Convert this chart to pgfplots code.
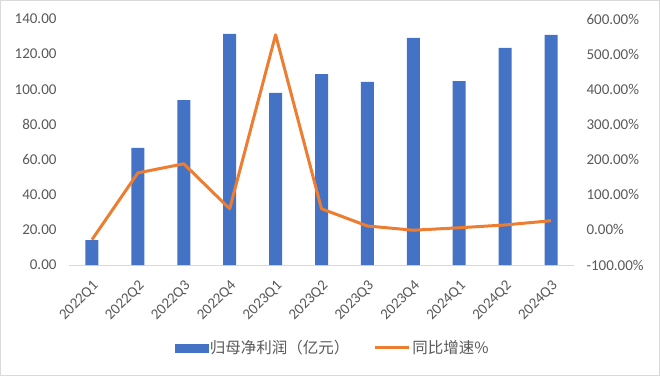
\documentclass[border=0pt]{standalone}
\usepackage{pgfplots}
\pgfplotsset{compat=1.18}
\usepackage{fontspec}
\setmainfont{Carlito}
\newfontfamily\cjk{Noto Sans CJK SC}
\definecolor{barblue}{HTML}{4472C4}
\definecolor{lineorange}{HTML}{ED7D31}
\definecolor{txtgray}{HTML}{595959}
\definecolor{axgray}{HTML}{D9D9D9}
\begin{document}
\begin{tikzpicture}
\useasboundingbox (0pt,0pt) rectangle (660pt,376pt);
\begin{axis}[
  at={(69pt,111pt)}, anchor=south west,
  scale only axis, width=505pt, height=246pt,
  xmin=-0.5, xmax=10.5, ymin=0, ymax=140,
  ytick={0,20,...,140},
  xtick={0,...,10},
  xticklabels={2022Q1,2022Q2,2022Q3,2022Q4,2023Q1,2023Q2,2023Q3,2023Q4,2024Q1,2024Q2,2024Q3},
  axis x line*=bottom, axis y line*=left,
  y axis line style={draw=none},
  x axis line style={axgray, line width=1pt, -},
  major tick length=0pt,
  tick style={draw=none},
  /pgf/number format/assume math mode=true,
  yticklabel={\pgfmathprintnumber[fixed,fixed zerofill,precision=2]{\tick}},
  ticklabel style={font=\fontsize{15}{17}\selectfont, text=txtgray},
  yticklabel style={xshift=-9pt},
  xticklabel style={xshift=5pt, yshift=-18pt, rotate=45, anchor=east, inner sep=1pt},
]
\addplot[ybar, bar width=13pt, fill=barblue, draw=none] coordinates {
(0,14.2) (1,66.6) (2,93.9) (3,131.5) (4,97.9) (5,108.7) (6,104.2) (7,129.2) (8,104.7) (9,123.5) (10,130.9)};
\end{axis}
\begin{axis}[
  at={(69pt,111pt)}, anchor=south west,
  scale only axis, width=505pt, height=246pt,
  xmin=-0.5, xmax=10.5, ymin=-100, ymax=600,
  ytick={-100,0,...,600},
  axis x line=none, axis y line*=right,
  y axis line style={draw=none},
  major tick length=0pt,
  tick style={draw=none},
  /pgf/number format/assume math mode=true,
  yticklabel={\pgfmathprintnumber[fixed,fixed zerofill,precision=2]{\tick}\%},
  ticklabel style={font=\fontsize{15}{17}\selectfont, text=txtgray},
  yticklabel style={xshift=9pt},
  legend style={at={(0.522,-0.337)}, anchor=center, draw=none, fill=none,
    legend columns=2, font=\cjk\fontsize{15.5}{17}\selectfont, text=txtgray,
    /tikz/every even column/.append style={column sep=22pt}},
]
\addlegendimage{legend image code/.code={\fill[barblue] (0pt,-4pt) rectangle (33pt,4pt);}}
\addlegendentry{归母净利润（亿元）}
\addplot[lineorange, line width=3pt, line join=round, mark=none,
  legend image code/.code={\draw[lineorange, line width=3pt] (0pt,0pt)--(34pt,0pt);}] coordinates {
(0,-28) (1,162) (2,188) (3,60) (4,555) (5,60) (6,11) (7,-1) (8,6) (9,14) (10,26)};
\addlegendentry{同比增速\%}
\end{axis}
\draw[axgray, line width=1pt] (0.5pt,0.5pt) rectangle (659.5pt,375.5pt);
\end{tikzpicture}
\end{document}
